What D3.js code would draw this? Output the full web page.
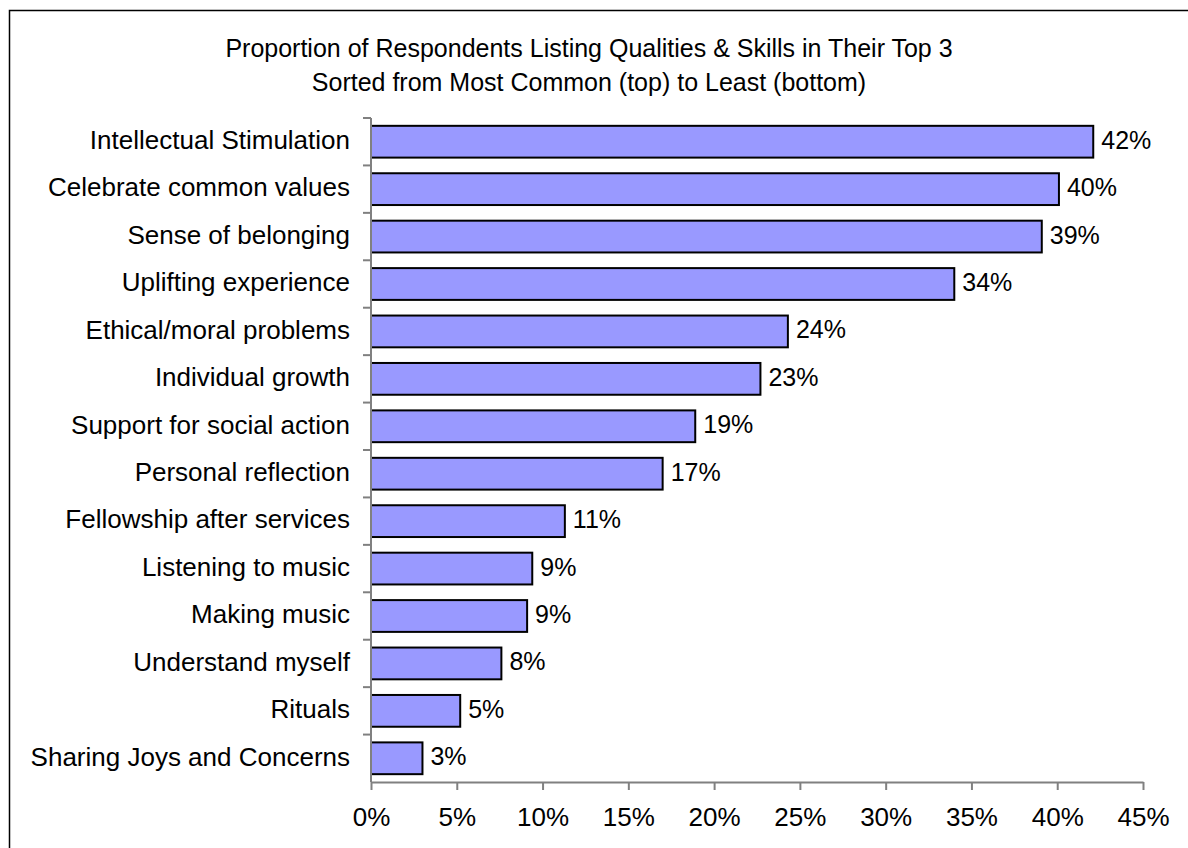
<!DOCTYPE html>
<html><head><meta charset="utf-8">
<script src="https://cdn.jsdelivr.net/npm/d3@7"></script>
<style>body{margin:0;background:#fff;} text{font-family:"Liberation Sans",Arial,sans-serif;fill:#000;}</style>
</head><body>
<svg id="c" width="1188" height="848"></svg>
<script>
const categories = ["Intellectual Stimulation","Celebrate common values","Sense of belonging","Uplifting experience","Ethical/moral problems","Individual growth","Support for social action","Personal reflection","Fellowship after services","Listening to music","Making music","Understand myself","Rituals","Sharing Joys and Concerns"];
const values = [42.1, 40.1, 39.1, 34.0, 24.3, 22.7, 18.9, 17.0, 11.3, 9.4, 9.1, 7.6, 5.2, 3.0];
const labels = ["42%","40%","39%","34%","24%","23%","19%","17%","11%","9%","9%","8%","5%","3%"];
const ticks = [0,5,10,15,20,25,30,35,40,45];
const titleLines = ["Proportion of Respondents Listing Qualities & Skills in Their Top 3","Sorted from Most Common (top) to Least (bottom)"];

const svg = d3.select("#c");
svg.append("rect").attr("x",9.5).attr("y",10.5).attr("width",1300).attr("height",1000).attr("fill","#fff").attr("stroke","#000").attr("stroke-width",1.5);

const x = d3.scaleLinear().domain([0,45]).range([371,1143]);
const y = d3.scaleBand().domain(categories).range([118,782]).paddingInner(0.33).paddingOuter(0.165);

// title
svg.selectAll("text.title").data(titleLines).join("text").attr("class","title")
  .attr("x",589).attr("y",(d,i)=>57+i*34).attr("text-anchor","middle").attr("font-size",25).text(d=>d);

// bars
svg.selectAll("rect.bar").data(values).join("rect").attr("class","bar")
  .attr("x",x(0)).attr("y",(d,i)=>y(categories[i]))
  .attr("width",d=>x(d)-x(0)).attr("height",y.bandwidth())
  .attr("fill","#9999ff").attr("stroke","#000").attr("stroke-width",2);

// value labels
svg.selectAll("text.val").data(values).join("text").attr("class","val")
  .attr("x",d=>x(d)+8).attr("y",(d,i)=>y(categories[i])+y.bandwidth()/2).attr("dy","0.28em")
  .attr("font-size",25).text((d,i)=>labels[i]);

// x axis
const xa = svg.append("g").attr("transform","translate(0,782)")
  .call(d3.axisBottom(x).tickValues(ticks).tickFormat(d=>d+"%").tickSize(8).tickSizeOuter(0).tickPadding(18));
xa.select(".domain").attr("stroke","#808080").attr("stroke-width",2);
xa.selectAll(".tick line").attr("stroke","#808080").attr("stroke-width",2);
xa.selectAll("text").attr("font-size",26).attr("font-family","Liberation Sans, Arial, sans-serif").attr("fill","#000");

// y axis
const yb = d3.scaleLinear().domain([0,categories.length]).range([118,782]);
svg.append("line").attr("x1",371).attr("x2",371).attr("y1",118).attr("y2",782).attr("stroke","#808080").attr("stroke-width",2);
svg.selectAll("line.yt").data(d3.range(categories.length)).join("line").attr("class","yt")
  .attr("x1",363).attr("x2",371).attr("y1",d=>yb(d)).attr("y2",d=>yb(d)).attr("stroke","#808080").attr("stroke-width",2);
svg.selectAll("text.cat").data(categories).join("text").attr("class","cat")
  .attr("x",350).attr("y",d=>y(d)+y.bandwidth()/2).attr("dy","0.28em").attr("text-anchor","end")
  .attr("font-size",26).text(d=>d);
</script>
</body></html>
